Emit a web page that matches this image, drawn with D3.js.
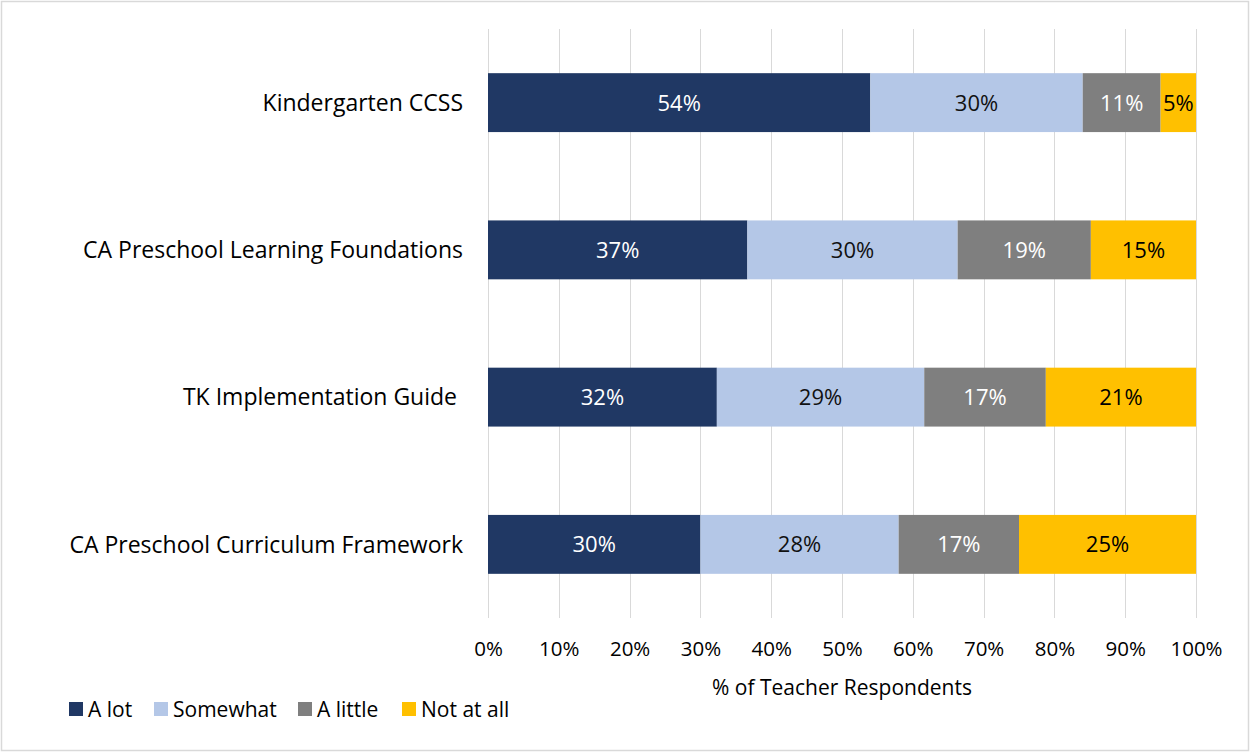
<!DOCTYPE html>
<html>
<head>
<meta charset="utf-8">
<script src="https://cdn.jsdelivr.net/npm/d3@7"></script>
<style>
  html, body { margin: 0; padding: 0; background: #fff; }
  svg { display: block; font-family: "Open Sans", sans-serif; }
</style>
</head>
<body>
<svg id="chart" width="1250" height="752"></svg>
<script>
// Survey items, top to bottom
const categories = [
  "Kindergarten CCSS",
  "CA Preschool Learning Foundations",
  "TK Implementation Guide ",
  "CA Preschool Curriculum Framework"
];
const seriesNames = ["A lot", "Somewhat", "A little", "Not at all"];
// Percent of teacher respondents per item, one array per response
const aLot       = [54, 37, 32, 30];
const somewhat   = [30, 30, 29, 28];
const aLittle    = [11, 19, 17, 17];
const notAtAll   = [5, 15, 21, 25];
const seriesColors = ["#203864", "#B4C7E7", "#7F7F7F", "#FFC000"];
const labelColors  = ["#ffffff", "#111111", "#ffffff", "#000000"];
const tickValues = [0, 0.1, 0.2, 0.3, 0.4, 0.5, 0.6, 0.7, 0.8, 0.9, 1.0];
const axisTitle = "% of Teacher Respondents";

const svg = d3.select("#chart");
const W = 1250, H = 752;
const FONT = "'Open Sans', sans-serif";

// outer frame
svg.append("rect")
  .attr("x", 1.5).attr("y", 1.5)
  .attr("width", W - 3).attr("height", H - 3)
  .attr("fill", "#fff").attr("stroke", "#d9d9d9").attr("stroke-width", 1.5);

const plot = { left: 488, right: 1196, top: 29, bottom: 618 };

// rows: each response as a share of the row total (100% stacked)
const rows = categories.map((c, i) => {
  const vals = [aLot[i], somewhat[i], aLittle[i], notAtAll[i]];
  const total = d3.sum(vals);
  const row = { category: c };
  seriesNames.forEach((s, j) => { row[s] = vals[j] / total; row[s + "_raw"] = vals[j]; });
  return row;
});
const stacked = d3.stack().keys(seriesNames)(rows);

const x = d3.scaleLinear().domain([0, 1]).range([plot.left, plot.right]);
const y = d3.scaleBand().domain(categories).range([plot.top, plot.bottom])
  .paddingInner(0.6).paddingOuter(0.3);

// vertical gridlines
svg.append("g")
  .selectAll("line").data(tickValues).join("line")
  .attr("x1", d => Math.round(x(d)) + 0.5).attr("x2", d => Math.round(x(d)) + 0.5)
  .attr("y1", plot.top).attr("y2", plot.bottom)
  .attr("stroke", "#d9d9d9").attr("stroke-width", 1);

// bars
const layers = svg.append("g").selectAll("g").data(stacked).join("g")
  .attr("fill", (d, i) => seriesColors[i]);
layers.selectAll("rect").data(d => d).join("rect")
  .attr("x", d => x(d[0]))
  .attr("y", d => y(d.data.category))
  .attr("width", d => x(d[1]) - x(d[0]))
  .attr("height", y.bandwidth());

// value labels
stacked.forEach((layer, i) => {
  svg.append("g").selectAll("text").data(layer).join("text")
    .attr("x", d => (x(d[0]) + x(d[1])) / 2)
    .attr("y", d => y(d.data.category) + y.bandwidth() / 2)
    .attr("dy", "0.36em")
    .attr("text-anchor", "middle")
    .attr("font-size", 22)
    .attr("fill", labelColors[i])
    .text(d => d.data[layer.key + "_raw"] + "%");
});

// category labels
svg.append("g").selectAll("text").data(categories).join("text")
  .attr("x", 463)
  .attr("y", d => y(d) + y.bandwidth() / 2)
  .attr("dy", "0.36em")
  .attr("text-anchor", "end")
  .attr("font-size", 23)
  .attr("fill", "#000")
  .style("white-space", "pre")
  .text(d => d);

// x axis tick labels
const xAxis = d3.axisBottom(x).tickValues(tickValues)
  .tickFormat(d3.format(".0%")).tickSize(0).tickPadding(0);
const gx = svg.append("g").attr("transform", `translate(0,${plot.bottom + 23})`).call(xAxis);
gx.select(".domain").remove();
gx.selectAll("text").attr("font-size", 20.5).attr("fill", "#000")
  .attr("font-family", FONT);

// axis title
svg.append("text")
  .attr("x", 842).attr("y", 695)
  .attr("text-anchor", "middle")
  .attr("font-size", 21).attr("fill", "#000")
  .text(axisTitle);

// legend
const legendX = [69, 154, 298, 402];
const legend = svg.append("g").selectAll("g").data(seriesNames).join("g")
  .attr("transform", (d, i) => `translate(${legendX[i]},702)`);
legend.append("rect").attr("width", 14).attr("height", 14)
  .attr("fill", (d, i) => seriesColors[i]);
legend.append("text").attr("x", 19).attr("y", 7).attr("dy", "0.36em")
  .attr("font-size", 21).attr("fill", "#000").text(d => d);
</script>
</body>
</html>
